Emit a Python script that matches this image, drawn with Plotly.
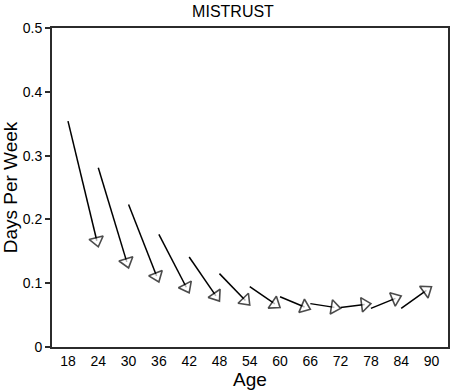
import plotly.graph_objects as go

# Data
start_age = [18, 24, 30, 36, 42, 48, 54, 60, 66, 72, 78, 84]
end_age = [24, 30, 36, 42, 48, 54, 60, 66, 72, 78, 84, 90]
start_val = [0.354, 0.281, 0.2235, 0.1765, 0.141, 0.115, 0.0945, 0.0788, 0.068, 0.062, 0.0606, 0.0606]
end_val = [0.157, 0.124, 0.102, 0.085, 0.072, 0.0658, 0.062, 0.059, 0.0606, 0.068, 0.080, 0.0945]
x_ticks = [18, 24, 30, 36, 42, 48, 54, 60, 66, 72, 78, 84, 90]
y_ticks = [0, 0.1, 0.2, 0.3, 0.4, 0.5]

FONT = "Liberation Sans, Arial, sans-serif"
AX = "#2b2b2b"

fig = go.Figure()
for xa, xb, ya, yb in zip(start_age, end_age, start_val, end_val):
    fig.add_trace(go.Scatter(
        x=[xa, xb], y=[ya, yb], mode="lines+markers",
        line=dict(color="black", width=1.5),
        marker=dict(symbol="triangle-up", size=[0, 12.5], angleref="previous", standoff=6.25,
                    color="white", line=dict(color="black", width=1.6)),
        showlegend=False, hoverinfo="skip", cliponaxis=False,
    ))

fig.update_layout(
    width=450, height=392,
    margin=dict(l=52, r=2, t=28, b=45, autoexpand=False),
    paper_bgcolor="white", plot_bgcolor="white",
    font=dict(family=FONT, color="black", size=14),
    title=dict(text="MISTRUST", x=233/450, xanchor="center", y=1-11/392,
               yanchor="middle", font=dict(size=16, family=FONT), automargin=False),
    xaxis=dict(range=[14.83, 93.27], tickvals=x_ticks, ticks="", showgrid=False,
               zeroline=False, showline=True, linecolor=AX, linewidth=2, mirror=True,
               automargin=False,
               tickfont=dict(size=14), title=dict(text="Age", font=dict(size=19), standoff=2)),
    yaxis=dict(range=[0, 0.5], tickvals=y_ticks, ticktext=["0", "0.1", "0.2", "0.3", "0.4", "0.5"],
               ticks="outside", ticklen=5, tickcolor=AX, tickwidth=1.5, showgrid=False,
               zeroline=False, showline=True, linecolor=AX, linewidth=2, mirror=True,
               automargin=False,
               tickfont=dict(size=14), title=dict(text="Days Per Week", font=dict(size=19), standoff=6)),
)

fig.write_html("out.html", config={"displayModeBar": False},
               post_script="document.body.style.margin='0';document.body.style.overflow='hidden';")
